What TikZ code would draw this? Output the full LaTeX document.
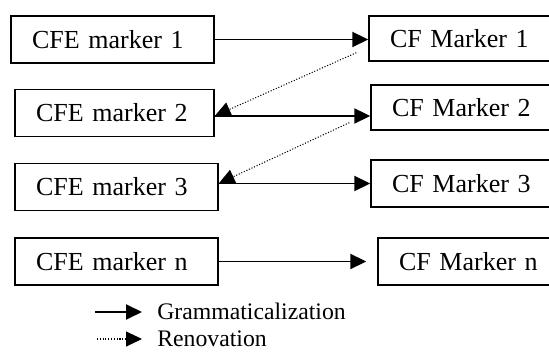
\documentclass[tikz,border=0pt]{standalone}
\usepackage{fontspec}
\setmainfont{Liberation Serif}
\usetikzlibrary{positioning, arrows.meta, calc}

\begin{document}
\begin{tikzpicture}[
        marker/.style={draw, line width=.8pt, inner xsep=.42cm, text width=#1, align=left,
            minimum height=.94cm, font=\fontsize{14.8}{17}\selectfont},
        gram/.style={line width=1.1pt, -{Triangle[length=.32cm, width=.3cm]}},
        reno/.style={densely dotted, line width=.6pt, -{Triangle[length=.32cm, width=.3cm]}},
        legend/.style={inner sep=0pt, anchor=west, font=\fontsize{13.5}{16}\selectfont}]

        % right boxes run past the page edge
        \clip (0,0) rectangle (10.98,7.08);

        %CFE MARKERS
        \node[marker=3.22cm] (CFE1) at (2.25,6.29) {CFE marker 1};
        \node[marker=3.14cm] (CFE2) at (2.29,4.82) {CFE marker 2};
        \node[marker=3.22cm] (CFE3) at (2.33,3.34) {CFE marker 3};
        \node[marker=3.22cm] (CFEn) at (2.33,1.85) {CFE marker n};

        %CF MARKERS
        \node[marker=3.38cm, minimum height=.9cm] (CF1) at (9.49,6.31) {CF Marker 1};
        \node[marker=3.38cm, minimum height=.9cm] (CF2) at (9.53,4.93) {CF Marker 2};
        \node[marker=3.38cm] (CF3) at (9.53,3.41) {CF Marker 3};
        \node[marker=3.38cm] (CFn) at (9.67,1.85) {CF Marker n};

        % grammaticalization
        \draw[gram] (CFE1.east) -- (CFE1.east -| CF1.west);
        \draw[gram] ([yshift=-.06cm]CFE2.east) -- ([yshift=-.06cm]CFE2.east -| CF2.west);
        \draw[gram] (CF3.west -| CFE3.east) -- (CF3.west);
        \draw[gram, shorten >=.22cm] (CFEn) -- (CFn);

        % renovation
        \draw[reno] ($(CF1.south west) + (-.24,.18)$) -- ([yshift=-.06cm]CFE2.east);
        \draw[reno] ($(CF2.south west) + (-.42,.16)$) -- (CF3.west -| CFE3.east);

        %LEGEND
        \node[legend] (gramlbl) at (3.14,.85) {Grammaticalization};
        \node[legend] (renolbl) at (3.14,.31) {Renovation};
        \coordinate (gramstart) at (1.90,.84);
        \coordinate (renostart) at (1.94,.30);
        \draw[gram, shorten >=.3cm] (gramstart) -- (gramstart -| gramlbl.west);
        \draw[reno, shorten >=.3cm] (renostart) -- (renostart -| renolbl.west);

    \end{tikzpicture}
\end{document}
